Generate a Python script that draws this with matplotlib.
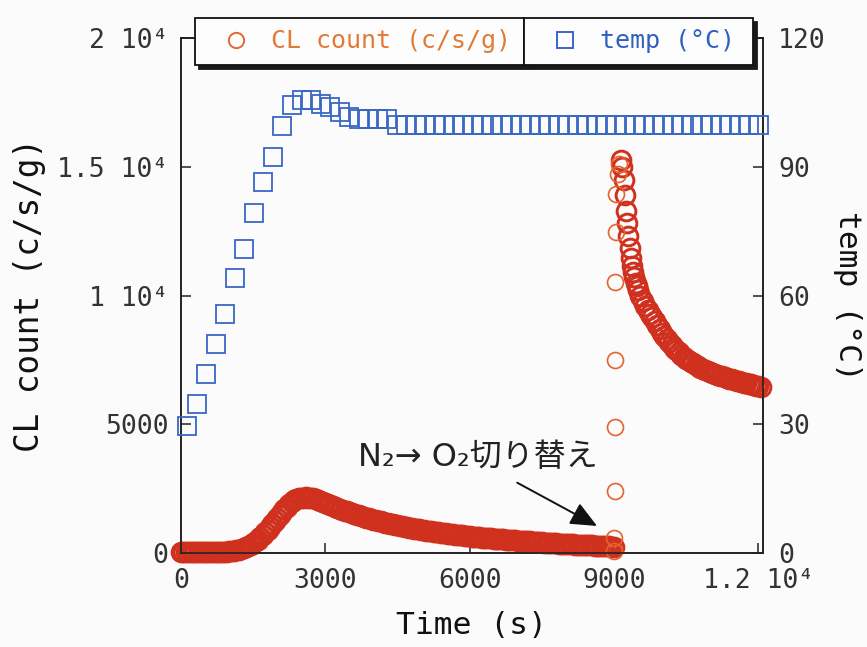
import numpy as np
import matplotlib
matplotlib.use('Agg')
import matplotlib.pyplot as plt
from matplotlib.lines import Line2D

plt.rcParams['font.family'] = ['DejaVu Sans Mono', 'DejaVu Sans', 'Noto Sans CJK JP']

# ---------------- data ----------------
# CL count before the gas switch (N2 atmosphere), every 50 s from 0 to 9000 s
cl_time_pre = list(range(0, 9001, 50))
cl_pre = [30, 30, 30, 30, 30, 30, 30, 30, 30, 30,
          30, 32, 35, 35, 35, 38, 40, 42, 45, 50,
          60, 75, 90, 110, 130, 160, 190, 230, 270, 320,
          380, 450, 520, 610, 700, 800, 900, 1010, 1120, 1235,
          1350, 1465, 1580, 1690, 1800, 1900, 2000, 2060, 2110, 2135,
          2150, 2155, 2160, 2150, 2140, 2120, 2100, 2065, 2030, 1990,
          1950, 1910, 1870, 1830, 1790, 1755, 1720, 1685, 1650, 1615,
          1580, 1550, 1520, 1490, 1460, 1430, 1400, 1375, 1350, 1325,
          1300, 1275, 1250, 1225, 1200, 1180, 1160, 1140, 1120, 1100,
          1080, 1060, 1040, 1020, 1000, 983, 965, 948, 930, 915,
          900, 885, 870, 855, 840, 825, 810, 798, 785, 773,
          760, 748, 735, 723, 710, 700, 690, 680, 670, 660,
          650, 640, 630, 620, 610, 600, 590, 583, 575, 568,
          560, 553, 545, 538, 530, 523, 515, 508, 500, 493,
          485, 478, 470, 463, 455, 448, 440, 433, 425, 418,
          410, 404, 398, 392, 386, 380, 374, 368, 362, 356,
          350, 345, 340, 335, 330, 325, 320, 315, 310, 305,
          300, 295, 290, 285, 280, 275, 270, 265, 260, 250,
          240]
# fast rise right after switching N2 -> O2
cl_time_switch = [9005, 9010, 9015, 9020, 9025, 9030, 9035, 9040, 9080, 9110]
cl_switch = [60, 585, 2420, 4875, 7490, 10530, 12480, 13960, 14700, 15100]
# decay in O2
cl_time_post = [9150, 9175, 9200, 9225, 9250, 9275, 9300, 9325, 9350, 9375,
                9400, 9425, 9450, 9475, 9500, 9550, 9600, 9650, 9700, 9750,
                9800, 9850, 9900, 9950, 10000, 10050, 10100, 10150, 10200, 10250,
                10300, 10350, 10400, 10450, 10500, 10550, 10600, 10650, 10700, 10750,
                10800, 10850, 10900, 10950, 11000, 11050, 11100, 11150, 11200, 11250,
                11300, 11350, 11400, 11450, 11500, 11550, 11600, 11650, 11700, 11750,
                11800, 11850, 11900, 11950, 12000, 12050]
cl_post = [15250, 15000, 14500, 13900, 13300, 12800, 12300, 11850, 11450, 11150,
           10900, 10700, 10500, 10350, 10200, 9980, 9780, 9610, 9450, 9300,
           9150, 9000, 8850, 8700, 8550, 8420, 8300, 8190, 8080, 7980,
           7880, 7790, 7700, 7625, 7550, 7485, 7420, 7360, 7300, 7250,
           7200, 7155, 7110, 7070, 7030, 6995, 6960, 6925, 6890, 6860,
           6830, 6800, 6770, 6745, 6720, 6695, 6670, 6645, 6620, 6595,
           6570, 6545, 6520, 6495, 6470, 6440]

temp_time = list(range(130, 12011, 198))
temp_vals = [29.6, 34.8, 41.8, 48.6, 55.7, 64.1, 70.8, 79.2, 86.4, 92.3,
             99.5, 104.3, 105.5, 105.5, 104.7, 104.0, 102.8, 101.6, 101.2, 101.2,
             101.2, 101.2] + [99.8] * 39

x_ticks = [0, 3000, 6000, 9000, 12000]
x_ticklabels = ['0', '3000', '6000', '9000', '1.2 10\u2074']
y_ticks = [0, 5000, 10000, 15000, 20000]
y_ticklabels = ['0', '5000', '1 10\u2074', '1.5 10\u2074', '2 10\u2074']
t_ticks = [0, 30, 60, 90, 120]

# ---------------- style ----------------
red = '#D0301E'
orange = '#E2642E'
orange_txt = '#E07A35'
blue = '#3A66C4'
blue_txt = '#2F5FC0'
W, H = 867, 647

fig = plt.figure(figsize=(W / 100, H / 100), dpi=100)
fig.patch.set_facecolor('#fbfbfb')
ax = fig.add_axes([181 / W, 1 - 553 / H, (763 - 181) / W, (553 - 38) / H])
ax.set_facecolor('#fbfbfb')
ax2 = ax.twinx()
ax2.patch.set_visible(False)

dense = dict(ls='none', marker='o', ms=13.5, mfc='none', mec=red, mew=2.1,
             clip_on=False, zorder=3)
ax.plot(cl_time_pre, cl_pre, **dense)
ax.plot(cl_time_post, cl_post, **dense)
ax.plot(cl_time_switch, cl_switch, ls='none', marker='o', ms=11.5, mfc='none',
        mec=orange, mew=1.2, clip_on=False, zorder=3)
ax2.plot(temp_time, temp_vals, ls='none', marker='s', ms=12.5, mfc='none',
         mec=blue, mew=1.3, clip_on=False, zorder=3)

ax.set_xlim(0, 12100)
ax.set_ylim(0, 20000)
ax2.set_ylim(0, 120)

ax.set_xticks(x_ticks)
ax.set_xticklabels(x_ticklabels)
ax.set_yticks(y_ticks)
ax.set_yticklabels(y_ticklabels)
ax2.set_yticks(t_ticks)

for a in (ax, ax2):
    for s in a.spines.values():
        s.set_linewidth(1.2)
        s.set_color('#222222')
ax.tick_params(axis='both', direction='in', length=7, width=1.1,
               labelsize=19, colors='#222222', labelcolor='#333333')
ax.tick_params(axis='x', pad=11)
ax.tick_params(axis='y', pad=9)
ax2.tick_params(axis='y', direction='in', length=7, width=1.1,
                labelsize=19, pad=11, colors='#222222', labelcolor='#333333')

ax.set_xlabel('Time (s)', fontsize=22.5, color='#111111', va='center')
ax.xaxis.set_label_coords(0.5, (553 - 626) / 515)
ax.set_ylabel('CL count (c/s/g)', fontsize=23.5, color='#111111', va='center')
ax.yaxis.set_label_coords((30 - 181) / 582, 0.5)
ax2.set_ylabel('temp (\u00b0C)', fontsize=22.5, color='#111111', rotation=270, va='center')
ax2.yaxis.set_label_coords((847 - 181) / 582, 0.5)

# annotation
ax.annotate('', xy=(8650, 1050), xytext=(6990, 2730),
            arrowprops=dict(arrowstyle='-|>,head_length=0.9,head_width=0.4',
                            color='#111111', lw=1.4, shrinkA=0, shrinkB=0,
                            mutation_scale=18))
ax.text(3683, 3390, 'N\u2082\u2192 O\u2082切り替え', fontsize=23, color='#222222',
        family=['DejaVu Sans', 'Noto Sans CJK JP'], va='baseline', ha='left')

# legend (two cells with shadow)
shadow = {'color': '#1a1a1a', 'alpha': 1.0, 'ox': 3, 'oy': -3}
h1 = Line2D([], [], ls='none', marker='o', ms=11, mfc='none', mec='#E06A30', mew=1.4)
h2 = Line2D([], [], ls='none', marker='s', ms=12, mfc='none', mec=blue, mew=1.4)
top = 1 - 18 / H
hgt = 50 / H
common = dict(loc='upper left', mode='expand', borderaxespad=0, fontsize=18,
              fancybox=False, shadow=shadow, edgecolor='#111111', framealpha=1,
              facecolor='#fdfdfd', handlelength=2.4, handletextpad=0.2,
              borderpad=0.45)
leg1 = fig.legend([h1], ['CL count (c/s/g)'],
                  bbox_to_anchor=(195 / W, top - hgt, (524 - 195) / W, hgt),
                  labelcolor=[orange_txt], **common)
leg1.get_frame().set_linewidth(1.3)
leg2 = fig.legend([h2], ['temp (\u00b0C)'],
                  bbox_to_anchor=(524 / W, top - hgt, (753 - 524) / W, hgt),
                  labelcolor=[blue_txt], **common)
leg2.get_frame().set_linewidth(1.3)

fig.savefig('out.png', dpi=100, facecolor=fig.get_facecolor())
